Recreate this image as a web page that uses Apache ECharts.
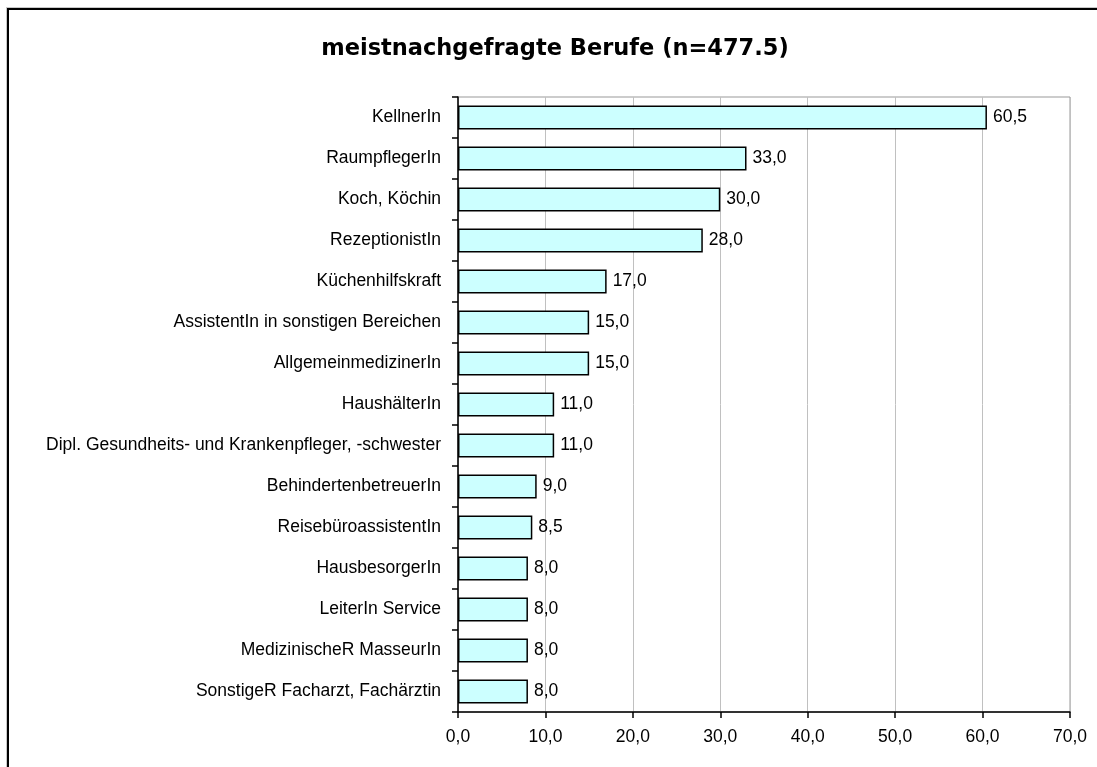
<!DOCTYPE html>
<html><head><meta charset="utf-8">
<script src="https://cdn.jsdelivr.net/npm/echarts@6/dist/echarts.min.js"></script>
<style>
html,body{margin:0;padding:0;background:#fff;overflow:hidden;}
#frame{position:absolute;left:7px;top:8px;width:1200px;height:900px;border:2px solid #000;box-shadow:-1px -1px 0 #c8c8c8;}
#chart{position:absolute;left:0;top:0;width:1097px;height:767px;}
</style></head>
<body>
<div id="frame"></div>
<div id="chart"></div>
<script>
const categories = [
  "KellnerIn",
  "RaumpflegerIn",
  "Koch, Köchin",
  "RezeptionistIn",
  "Küchenhilfskraft",
  "AssistentIn in sonstigen Bereichen",
  "AllgemeinmedizinerIn",
  "HaushälterIn",
  "Dipl. Gesundheits- und Krankenpfleger, -schwester",
  "BehindertenbetreuerIn",
  "ReisebüroassistentIn",
  "HausbesorgerIn",
  "LeiterIn Service",
  "MedizinischeR MasseurIn",
  "SonstigeR Facharzt, Fachärztin"
];
const values = [60.5, 33.0, 30.0, 28.0, 17.0, 15.0, 15.0, 11.0, 11.0, 9.0, 8.5, 8.0, 8.0, 8.0, 8.0];
const titleText = "meistnachgefragte Berufe (n=477.5)";

const fmt = v => v.toFixed(1).replace('.', ',');

const chart = echarts.init(document.getElementById('chart'), null, {renderer: 'canvas'});
chart.setOption({
  animation: false,
  backgroundColor: 'transparent',
  title: {
    text: titleText,
    left: 550, top: 33, textAlign: 'center',
    textStyle: {fontFamily: 'DejaVu Sans', fontWeight: 'bold', fontSize: 22.5, color: '#000'}
  },
  grid: {left: 458, top: 97, right: 27, bottom: 55, containLabel: false,
         show: true, borderColor: '#999', borderWidth: 1, backgroundColor: 'transparent'},
  xAxis: {
    type: 'value', min: 0, max: 70, interval: 10,
    axisLine: {show: true, lineStyle: {color: '#000', width: 1.5}},
    axisTick: {show: true, length: 6, inside: false, lineStyle: {color: '#000', width: 1.5}},
    axisLabel: {formatter: v => fmt(v), fontFamily: 'Liberation Sans, Arial', fontSize: 17.5, color: '#000', margin: 16},
    splitLine: {show: true, lineStyle: {color: '#c0c0c0', width: 1}}
  },
  yAxis: {
    type: 'category', data: categories, inverse: true,
    axisLine: {show: true, lineStyle: {color: '#000', width: 1.5}},
    axisTick: {show: true, length: 6, alignWithLabel: false, lineStyle: {color: '#000', width: 1.5}},
    axisLabel: {fontFamily: 'Liberation Sans, Arial', fontSize: 17.5, color: '#000', margin: 17},
    splitLine: {show: false}
  },
  series: [{
    type: 'bar', data: values, barWidth: 24,
    itemStyle: {color: '#ccffff', borderColor: '#000', borderWidth: 1.5},
    label: {show: true, position: 'right', distance: 6, formatter: p => fmt(p.value),
            fontFamily: 'Liberation Sans, Arial', fontSize: 17.5, color: '#000'}
  }]
});
</script>
</body></html>
